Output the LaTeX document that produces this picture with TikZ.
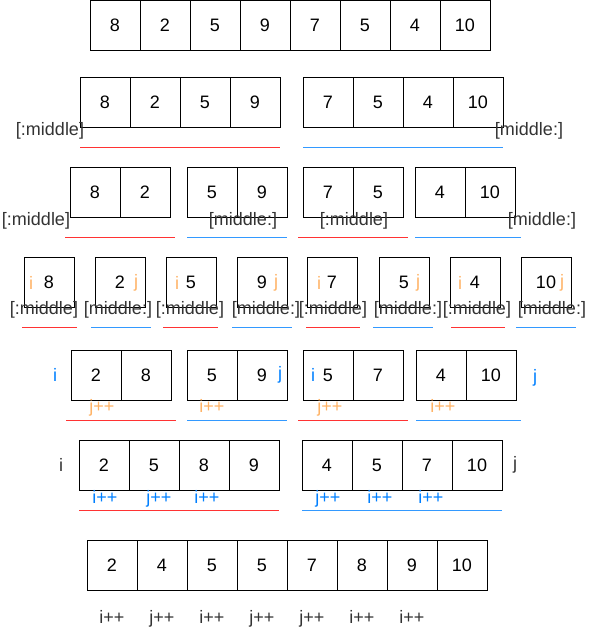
\documentclass[tikz,border=0pt]{standalone}
\usepackage{fontspec}
\setmainfont{Liberation Sans}
\usetikzlibrary{positioning}
\definecolor{linered}{HTML}{FF3333}
\definecolor{lineblue}{HTML}{3399FF}
\definecolor{ptrorange}{HTML}{FFB366}
\definecolor{ptrblue}{HTML}{007FFF}
\definecolor{tagtext}{HTML}{333333}
\newcommand{\cellfont}{\fontsize{18}{18}\selectfont}

\begin{document}
\begin{tikzpicture}[x=1pt, y=-1pt,
    cell/.style={draw, line width=1pt, minimum size=50pt, inner sep=0pt, font=\cellfont},
    tag/.style={text=tagtext, inner sep=0pt, font=\cellfont},
    ptr/.style={inner sep=0pt, font=\cellfont},
    steptag/.style={inner sep=0pt, anchor=base, font=\cellfont},
    redline/.style={linered, line width=1pt},
    blueline/.style={lineblue, line width=1pt}]
    \useasboundingbox (0,0) rectangle (597,641);

    % row 1: the array
    \foreach \v [count=\k] in {8,2,5,9,7,5,4,10}
        \node[cell] (r1c\k) at ({65+50*\k},25) {\v};

    % row 2: split in halves
    \foreach \v [count=\k] in {8,2,5,9}
        \node[cell] (r2l\k) at ({55+50*\k},102) {\v};
    \foreach \v [count=\k] in {7,5,4,10}
        \node[cell] (r2r\k) at ({278+50*\k},102) {\v};
    \node[tag] (r2tagl) at (50,131) {[:middle]};
    \node[tag] (r2tagr) at (529,131) {[middle:]};
    \draw[redline] (80,147) -- (280,147);
    \draw[blueline] (303,147) -- (503,147);

    % row 3: quarters
    \foreach \v/\x [count=\k] in {8/95,2/145,5/212,9/262,7/328,5/378,4/440,10/490}
        \node[cell] (r3c\k) at (\x,192) {\v};
    \node[tag] (r3tag1) at (36,221) {[:middle]};
    \node[tag] (r3tag2) at (243,221) {[middle:]};
    \node[tag] (r3tag3) at (354,221) {[:middle]};
    \node[tag] (r3tag4) at (542,221) {[middle:]};
    \draw[redline] (65,237) -- (175,237);
    \draw[blueline] (187,237) -- (287,237);
    \draw[redline] (298,237) -- (408,237);
    \draw[blueline] (415,237) -- (521,237);

    % row 4: single cells
    \foreach \v/\x [count=\k] in {8/49,2/120,5/191,9/262,7/332,5/404,4/475,10/546}
        \node[cell] (r4c\k) at (\x,282) {\v};
    \foreach \x [count=\k] in {31,177,319,460}
        \node[ptr, text=ptrorange] (r4i\k) at (\x,283) {i};
    \foreach \x [count=\k] in {136,276,418,562}
        \node[ptr, text=ptrorange] (r4j\k) at (\x,283) {j};
    \foreach \x [count=\k] in {44,190,333,477}
        \node[tag] (r4tagl\k) at (\x,310) {[:middle]};
    \foreach \x [count=\k] in {118,266,408,552}
        \node[tag] (r4tagr\k) at (\x,310) {[middle:]};
    \foreach \a/\b in {22/77,163/218,306/360,451/505}
        \draw[redline] (\a,327) -- (\b,327);
    \foreach \a/\b in {91/151,232/292,373/433,516/576}
        \draw[blueline] (\a,327) -- (\b,327);

    % row 5: merge pairs
    \foreach \v/\x [count=\k] in {2/96,8/146,5/212,9/262,5/328,7/378,4/441,10/491}
        \node[cell] (r5c\k) at (\x,375) {\v};
    \node[ptr, text=ptrblue] (r5i1) at (55,375) {i};
    \node[ptr, text=ptrblue] (r5j1) at (280,375) {j};
    \node[ptr, text=ptrblue] (r5i2) at (313,375) {i};
    \node[ptr, text=ptrblue] (r5j2) at (535,378) {j};
    \node[steptag, text=ptrorange] (r5s1) at (102,412) {j++};
    \node[steptag, text=ptrorange] (r5s2) at (212,412) {i++};
    \node[steptag, text=ptrorange] (r5s3) at (330,412) {j++};
    \node[steptag, text=ptrorange] (r5s4) at (443,412) {i++};
    \draw[redline] (66,420) -- (176,420);
    \draw[blueline] (187,420) -- (287,420);
    \draw[redline] (298,420) -- (408,420);
    \draw[blueline] (416,420) -- (521,420);

    % row 6: merge halves
    \foreach \v/\x [count=\k] in {2/104,5/154,8/204,9/254,4/327,5/377,7/427,10/477}
        \node[cell] (r6c\k) at (\x,465) {\v};
    \node[ptr, text=tagtext] (r6i) at (61,465) {i};
    \node[ptr, text=tagtext] (r6j) at (515,465) {j};
    \foreach \s/\x [count=\k] in {i++/105,j++/159,i++/207,j++/328,i++/380,i++/431}
        \node[steptag, text=ptrblue] (r6s\k) at (\x,503) {\s};
    \draw[redline] (79,510) -- (279,510);
    \draw[blueline] (302,510) -- (502,510);

    % row 7: sorted result
    \foreach \v [count=\k] in {2,4,5,5,7,8,9,10}
        \node[cell] (r7c\k) at ({62+50*\k},565) {\v};
    \foreach \s [count=\k] in {i++,j++,i++,j++,j++,i++,i++}
        \node[steptag, text=tagtext] (r7s\k) at ({62+50*\k},623) {\s};
\end{tikzpicture}
\end{document}
